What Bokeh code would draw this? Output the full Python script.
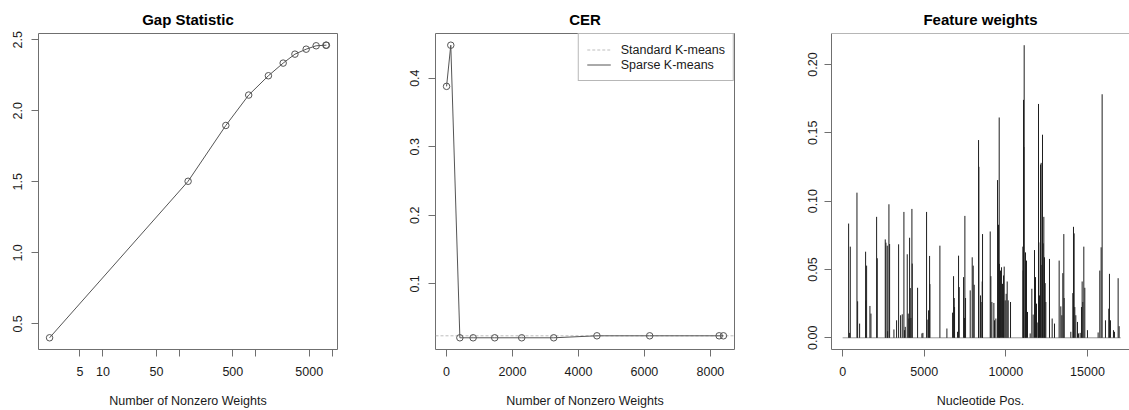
import math
from bokeh.plotting import figure
from bokeh.layouts import row
from bokeh.models import (FixedTicker, Range1d, Span, Legend, LegendItem,
                          PrintfTickFormatter)
from bokeh.embed import file_html
from bokeh.resources import INLINE

# ---------------- data ----------------
n_nonzero = [2, 130, 405, 807, 1462, 2280, 3250, 4560, 6160, 8265, 8395]
gap_stat = [0.402, 1.504, 1.897, 2.111, 2.247, 2.336, 2.399, 2.434, 2.458, 2.462, 2.462]
cer_sparse = [0.388, 0.448, 0.0214, 0.0214, 0.0214, 0.0214, 0.0214, 0.0243, 0.0243, 0.0243, 0.0243]
cer_standard = 0.0243

gap_xticks = [5, 10, 50, 100, 500, 1000, 5000, 10000]
gap_xtick_labels = ["5", "10", "50", "", "500", "", "5000", ""]
gap_yticks = [0.5, 1.0, 1.5, 2.0, 2.5]
cer_xticks = [0, 2000, 4000, 6000, 8000]
cer_yticks = [0.1, 0.2, 0.3, 0.4]
fw_xticks = [0, 5000, 10000, 15000]
fw_yticks = [0.00, 0.05, 0.10, 0.15, 0.20]

nucleotide_range = [0, 17040]
baseline_weight = 0.0
fw_pos = [367, 429, 469, 878, 918, 1041, 1408, 1429, 1469, 1673, 1735, 2082, 2122,
          2612, 2653, 2735, 2755, 2837, 2878, 3143, 3306, 3429, 3551, 3653, 3755,
          3796, 3837, 3959, 4020, 4061, 4102, 4143, 4184, 4245, 4265, 4592, 4857,
          4918, 5143, 5224, 5265, 5327, 5347, 5959, 6388, 6735, 6796, 6837, 6857,
          7041, 7102, 7143, 7408, 7469, 7490, 7531, 7816, 7939, 8000, 8061, 8327,
          8347, 8449, 8531, 8551, 8571, 9041, 9082, 9143, 9265, 9306, 9388, 9490,
          9551, 9592, 9612, 9673, 9735, 9796, 9857, 9898, 9959, 10020, 10082, 10143,
          10286, 11041, 11061, 11082, 11102, 11122, 11204, 11224, 11265, 11326,
          11490, 11592, 11673, 11755, 11816, 11878, 11959, 12000, 12020, 12061,
          12122, 12163, 12204, 12245, 12286, 12327, 12367, 12408, 12449, 12673,
          12837, 12980, 13265, 13367, 13429, 13490, 13551, 13571, 13980, 14102,
          14143, 14184, 14225, 14286, 14388, 14449, 14551, 14633, 14674, 14714,
          14776, 14837, 15000, 15653, 15755, 15837, 15898, 16102, 16306, 16347,
          16408, 16592, 16653, 16878, 16939]
fw_weight = [0.0836, 0.0036, 0.0667, 0.1062, 0.0267, 0.0104, 0.0630, 0.0274, 0.0528,
             0.0233, 0.0177, 0.0885, 0.0582, 0.0720, 0.0696, 0.0674, 0.0048, 0.0977,
             0.0686, 0.0061, 0.0128, 0.0684, 0.0165, 0.0172, 0.0921, 0.0056, 0.0080,
             0.0611, 0.0177, 0.0141, 0.0732, 0.0364, 0.0145, 0.0943, 0.0543, 0.0366,
             0.0032, 0.0036, 0.0921, 0.0133, 0.0201, 0.0599, 0.0393, 0.0674, 0.0068,
             0.0184, 0.0451, 0.0291, 0.0225, 0.0044, 0.0601, 0.0371, 0.0444, 0.0145,
             0.0892, 0.0291, 0.0347, 0.0589, 0.0528, 0.0388, 0.1447, 0.1251, 0.0310,
             0.0262, 0.0412, 0.0759, 0.0778, 0.0451, 0.0262, 0.0255, 0.0128, 0.0141,
             0.1154, 0.0827, 0.1612, 0.0541, 0.0492, 0.0516, 0.0395, 0.0456, 0.0521,
             0.0274, 0.0322, 0.0412, 0.0274, 0.0262, 0.0667, 0.0492, 0.1741, 0.1396,
             0.2141, 0.0625, 0.0274, 0.0565, 0.0189, 0.0032, 0.0359, 0.0170, 0.0642,
             0.0444, 0.0250, 0.0112, 0.1711, 0.0698, 0.0310, 0.1268, 0.1280, 0.0533,
             0.1486, 0.0691, 0.0885, 0.0589, 0.0400, 0.0262, 0.0577, 0.0141, 0.0104,
             0.0565, 0.0230, 0.0165, 0.0473, 0.0759, 0.0291, 0.0044, 0.0327, 0.0812,
             0.0764, 0.0225, 0.0165, 0.0116, 0.0032, 0.0036, 0.0225, 0.0412, 0.0262,
             0.0667, 0.0366, 0.0056, 0.0039, 0.0492, 0.0662, 0.1782, 0.0128, 0.0213,
             0.0468, 0.0128, 0.0056, 0.0044, 0.0436, 0.0085]

# ---------------- style ----------------
FONT = "Liberation Sans"
BOX = "#6f6f6f"
TXT = "#1a1a1a"
LINE = "#555555"
H = 410
TOP, BOTTOM = 33, 61


def r_range(lo, hi):
    d = (hi - lo) * 0.04
    return lo - d, hi + d


def style(p, xlabel, ystandoff):
    p.outline_line_color = BOX
    p.outline_line_width = 1
    p.grid.visible = False
    p.background_fill_color = "white"
    p.border_fill_color = "white"
    p.title.text_font = FONT
    p.title.text_font_size = "15px"
    p.title.text_font_style = "bold"
    p.title.text_color = "black"
    p.title.align = "center"
    p.title.standoff = 12
    for ax in p.axis:
        ax.axis_line_color = None
        ax.major_tick_line_color = BOX
        ax.major_tick_out = 7
        ax.major_tick_in = 0
        ax.minor_tick_line_color = None
        ax.major_label_text_font = FONT
        ax.major_label_text_font_size = "12.5px"
        ax.major_label_text_color = TXT
        ax.axis_label_text_font = FONT
        ax.axis_label_text_font_size = "12.5px"
        ax.axis_label_text_font_style = "normal"
        ax.axis_label_text_color = TXT
    p.xaxis.major_label_standoff = 10
    p.xaxis.axis_label = xlabel
    p.xaxis.axis_label_standoff = 15
    p.yaxis.major_label_orientation = "vertical"
    p.yaxis.major_label_standoff = ystandoff


# ---------------- panel 1: Gap statistic ----------------
lx0, lx1 = r_range(math.log10(min(n_nonzero)), math.log10(max(n_nonzero)))
gy = r_range(min(gap_stat), max(gap_stat))
p1 = figure(width=403, height=H, title="Gap Statistic", x_axis_type="log",
            x_range=Range1d(10 ** lx0, 10 ** lx1), y_range=Range1d(*gy),
            output_backend="svg", toolbar_location=None,
            min_border_left=38, min_border_right=66,
            min_border_top=TOP, min_border_bottom=BOTTOM)
p1.line(n_nonzero, gap_stat, line_color=LINE, line_width=1)
p1.scatter(n_nonzero, gap_stat, size=6.5, marker="circle", fill_color=None,
           line_color=LINE, line_width=1)
style(p1, "Number of Nonzero Weights", 9)
p1.xaxis.ticker = FixedTicker(ticks=gap_xticks)
p1.xaxis.major_label_overrides = {t: l for t, l in zip(gap_xticks, gap_xtick_labels)}
p1.yaxis.ticker = FixedTicker(ticks=gap_yticks)
p1.yaxis.formatter = PrintfTickFormatter(format="%.1f")

# ---------------- panel 2: CER ----------------
cx = r_range(min(n_nonzero), max(n_nonzero))
cy = r_range(min(cer_sparse), max(cer_sparse))
p2 = figure(width=398, height=H, title="CER",
            x_range=Range1d(*cx), y_range=Range1d(*cy),
            output_backend="svg", toolbar_location=None,
            min_border_left=32, min_border_right=67,
            min_border_top=TOP, min_border_bottom=BOTTOM)
# standard K-means CER: horizontal reference line across the whole axis range
std_line = p2.line(list(cx), [cer_standard, cer_standard], line_color="#bdbdbd",
                   line_dash="3 2", line_width=1)
sp_line = p2.line(n_nonzero, cer_sparse, line_color=LINE, line_width=1)
p2.scatter(n_nonzero, cer_sparse, size=6.5, marker="circle", fill_color=None,
           line_color=LINE, line_width=1)
style(p2, "Number of Nonzero Weights", 9)
p2.xaxis.ticker = FixedTicker(ticks=cer_xticks)
p2.yaxis.ticker = FixedTicker(ticks=cer_yticks)
p2.yaxis.formatter = PrintfTickFormatter(format="%.1f")
legend = Legend(items=[LegendItem(label="Standard K-means", renderers=[std_line]),
                       LegendItem(label="Sparse K-means", renderers=[sp_line])],
                location="top_right", margin=0, padding=8, spacing=0,
                label_standoff=10, glyph_width=24, glyph_height=15, label_height=15,
                border_line_color=BOX, border_line_width=1,
                background_fill_color="white", background_fill_alpha=1.0,
                label_text_font=FONT, label_text_font_size="12.5px",
                label_text_color=TXT)
p2.add_layout(legend)

# ---------------- panel 3: Feature weights ----------------
fx0, fx1 = r_range(nucleotide_range[0], nucleotide_range[1])
FW_FRAME = 298
fx1_visible = fx0 + (fx1 - fx0) * FW_FRAME / 300.4   # right part of the panel is cut off
fy = r_range(0, max(fw_weight))
p3 = figure(width=30 + FW_FRAME, height=H, title="Feature weights",
            x_range=Range1d(fx0, fx1_visible), y_range=Range1d(*fy),
            output_backend="svg", toolbar_location=None,
            min_border_left=30, min_border_right=0,
            min_border_top=TOP, min_border_bottom=BOTTOM)
p3.line(nucleotide_range, [baseline_weight] * len(nucleotide_range),
        line_color="#9a9a9a", line_width=1)
p3.segment(x0=fw_pos, y0=[baseline_weight] * len(fw_pos), x1=fw_pos, y1=fw_weight,
           line_color="#1e1e1e", line_width=1)
style(p3, "Nucleotide Pos.", 7)
p3.outline_line_color = None
for ax in p3.axis:
    ax.axis_line_color = BOX
p3.add_layout(Span(location=fy[1], dimension="width", line_color=BOX, line_width=1))
p3.xaxis.ticker = FixedTicker(ticks=fw_xticks)
p3.yaxis.ticker = FixedTicker(ticks=fw_yticks)
p3.yaxis.formatter = PrintfTickFormatter(format="%.2f")

layout = row(p1, p2, p3, spacing=0)
open("out.html", "w").write(file_html(layout, INLINE))
